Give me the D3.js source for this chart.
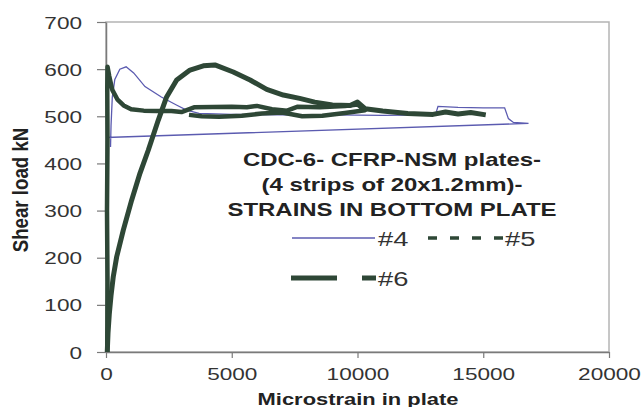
<!DOCTYPE html>
<html>
<head>
<meta charset="utf-8">
<script src="https://cdn.jsdelivr.net/npm/d3@7"></script>
<style>
  body { margin: 0; background: #fff; }
  svg { font-family: "Liberation Sans", Arial, sans-serif; }
</style>
</head>
<body>
<div id="chart"></div>
<script>
// values: [microstrain, shear load kN]
const xTicks = [0, 5000, 10000, 15000, 20000];
const yTicks = [0, 100, 200, 300, 400, 500, 600, 700];

const series4 = [[180, 435], [200, 480], [250, 540], [350, 578], [550, 600], [800, 605], [1100, 592],
    [1550, 563], [2200, 541], [2800, 524], [3200, 513], [3700, 506], [5000, 504], [7000, 503],
    [9000, 503], [11000, 502], [13100, 503], [13200, 521], [14000, 519], [15000, 518], [15850, 518],
    [16000, 495], [16200, 487], [16800, 485], [0, 455]];

const series5 = [[50, 0], [60, 150], [40, 300], [60, 450], [50, 560], [60, 605], [130, 585], [250, 556],
    [450, 536], [700, 523], [1000, 515], [1500, 512], [2000, 511], [2600, 511], [3000, 509], [3500, 519],
    [5000, 520], [5600, 519], [6000, 522], [6600, 515], [7200, 512], [7600, 520], [8500, 519], [9500, 522],
    [10000, 525], [10300, 513], [9500, 507], [8600, 501], [7800, 500], [7000, 508], [6200, 506],
    [5400, 501], [4500, 499], [3800, 500], [3300, 503]];

const series6 = [[50, 0], [80, 40], [130, 80], [200, 120], [290, 160], [425, 202], [690, 259], [1020, 322],
    [1350, 379], [1680, 428], [2080, 492], [2410, 541], [2810, 577], [3340, 598], [3870, 607], [4330, 609],
    [5060, 594], [5730, 577], [6390, 557], [7050, 545], [7700, 538], [8300, 530], [9000, 524], [9700, 523],
    [10000, 530], [10300, 516], [11000, 511], [12000, 506], [13000, 504], [13500, 509], [14000, 505],
    [14500, 508], [15100, 503]];

const titleLines = ['CDC-6- CFRP-NSM plates-', '(4 strips of 20x1.2mm)-', 'STRAINS IN BOTTOM PLATE'];

const width = 644, height = 407;
const margin = {top: 22, right: 35, bottom: 55, left: 106};
const stretch = 1.37;   // the picture is stretched sideways
const green = '#2e4736', blue = '#5b5bb0';

const svg = d3.select('#chart').append('svg')
    .attr('width', width)
    .attr('height', height);

const xScale = d3.scaleLinear().domain([0, 20000]).range([margin.left, width - margin.right]);
const yScale = d3.scaleLinear().domain([0, 700]).range([height - margin.bottom, margin.top]);

// plot frame
svg.append('rect')
    .attr('x', xScale(0)).attr('y', yScale(700))
    .attr('width', xScale(20000) - xScale(0))
    .attr('height', yScale(0) - yScale(700))
    .attr('fill', 'none')
    .attr('stroke', '#b4b4b4')
    .attr('stroke-width', 1.5);

const xAxis = d3.axisBottom(xScale).tickValues(xTicks).tickFormat(d3.format('d'))
    .tickSize(6).tickSizeOuter(0);
const gX = svg.append('g')
    .attr('transform', `translate(0,${yScale(0)})`)
    .call(xAxis);

const yAxis = d3.axisLeft(yScale).tickValues(yTicks).tickFormat(d3.format('d'))
    .tickSize(9).tickSizeOuter(0);
const gY = svg.append('g')
    .attr('transform', `translate(${xScale(0)},0)`)
    .call(yAxis);

[gX, gY].forEach(g => {
    g.select('.domain').attr('stroke', '#7a7a7a').attr('stroke-width', 1.5);
    g.selectAll('.tick line').attr('stroke', '#7a7a7a').attr('stroke-width', 1.2);
    g.selectAll('.tick text')
        .attr('fill', '#333')
        .style('font-size', '16.5px')
        .attr('x', 0).attr('y', 0).attr('dy', null);
});
gX.selectAll('.tick text').attr('transform', `translate(0,28) scale(${stretch},1)`);
gY.selectAll('.tick text').attr('transform', `translate(-24,6) scale(${stretch},1)`);

// series
const line = d3.line().x(d => xScale(d[0])).y(d => yScale(d[1]));

svg.append('path').datum(series4)
    .attr('d', line)
    .attr('fill', 'none')
    .attr('stroke', blue)
    .attr('stroke-width', 1.3);

svg.append('path').datum(series5)
    .attr('d', line)
    .attr('fill', 'none')
    .attr('stroke', green)
    .attr('stroke-width', 4.5)
    .attr('stroke-linejoin', 'round');

svg.append('path').datum(series6)
    .attr('d', line)
    .attr('fill', 'none')
    .attr('stroke', green)
    .attr('stroke-width', 5)
    .attr('stroke-linejoin', 'round');

// annotation
titleLines.forEach((t, i) => {
    svg.append('text')
        .attr('transform', `translate(392,${166 + i * 25}) scale(${stretch},1)`)
        .attr('text-anchor', 'middle')
        .attr('fill', '#222')
        .style('font-size', '17.5px')
        .style('font-weight', 'bold')
        .text(t);
});

// legend
const legend = svg.append('g');
legend.append('line')
    .attr('x1', 292).attr('x2', 375).attr('y1', 238).attr('y2', 238)
    .attr('stroke', blue).attr('stroke-width', 1.3);
legend.append('text')
    .attr('transform', `translate(378,246) scale(1.3,1)`)
    .attr('fill', '#333').style('font-size', '21px')
    .text('#4');
legend.append('line')
    .attr('x1', 428).attr('x2', 504).attr('y1', 238).attr('y2', 238)
    .attr('stroke', green).attr('stroke-width', 3.5)
    .attr('stroke-dasharray', '9,13');
legend.append('text')
    .attr('transform', `translate(505,246) scale(1.3,1)`)
    .attr('fill', '#333').style('font-size', '21px')
    .text('#5');
legend.append('line')
    .attr('x1', 291).attr('x2', 376).attr('y1', 278).attr('y2', 278)
    .attr('stroke', green).attr('stroke-width', 5)
    .attr('stroke-dasharray', '46,25,14');
legend.append('text')
    .attr('transform', `translate(378,286) scale(1.3,1)`)
    .attr('fill', '#333').style('font-size', '21px')
    .text('#6');

// axis titles
svg.append('text')
    .attr('transform', `translate(28,190) rotate(-90) scale(1.1,1.3)`)
    .attr('text-anchor', 'middle')
    .attr('fill', '#222')
    .style('font-size', '17px')
    .style('font-weight', 'bold')
    .text('Shear load kN');

svg.append('text')
    .attr('transform', `translate(358,405) scale(${stretch},1)`)
    .attr('text-anchor', 'middle')
    .attr('fill', '#222')
    .style('font-size', '16px')
    .style('font-weight', 'bold')
    .text('Microstrain in plate');
</script>
</body>
</html>
